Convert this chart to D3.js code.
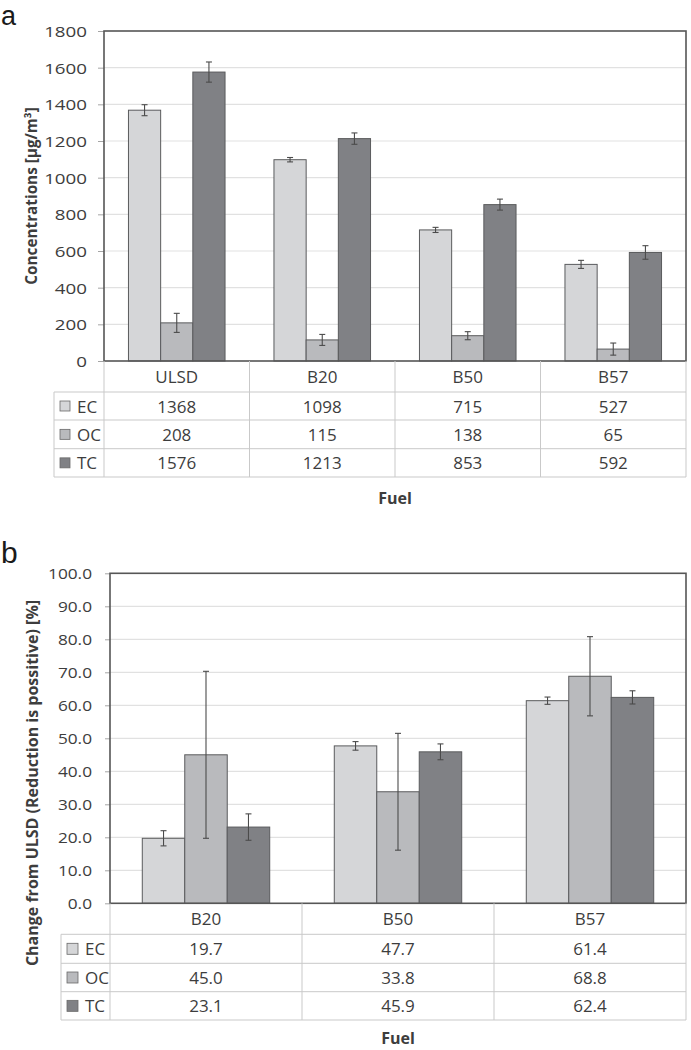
<!DOCTYPE html>
<html><head><meta charset="utf-8">
<script src="https://cdn.jsdelivr.net/npm/d3@7"></script>
<style>body{margin:0;background:#fff} svg{display:block;font-family:"Open Sans",sans-serif}</style>
</head><body>
<svg id="chart" width="691" height="1050"></svg>
<script>
// ---------- data ----------
const seriesNames = ["EC", "OC", "TC"];

// panel a: concentrations [µg/m³]
const fuelsA = ["ULSD", "B20", "B50", "B57"];
const ecA = [1368, 1098, 715, 527];
const ocA = [208, 115, 138, 65];
const tcA = [1576, 1213, 853, 592];
const ecErrA = [30, 12, 14, 22];
const ocErrA = [52, 30, 22, 33];
const tcErrA = [55, 31, 30, 37];
const ticksA = [0, 200, 400, 600, 800, 1000, 1200, 1400, 1600, 1800];

// panel b: change from ULSD [%]
const fuelsB = ["B20", "B50", "B57"];
const ecB = [19.7, 47.7, 61.4];
const ocB = [45.0, 33.8, 68.8];
const tcB = [23.1, 45.9, 62.4];
const ecErrB = [2.3, 1.3, 1.1];
const ocErrB = [25.3, 17.7, 12.0];
const tcErrB = [4.0, 2.4, 2.0];
const ticksB = [0, 10, 20, 30, 40, 50, 60, 70, 80, 90, 100];

// ---------- drawing ----------
const svg = d3.select("#chart");
const fillColor = d3.scaleOrdinal().domain(seriesNames).range(["#d5d6d8", "#b9babd", "#808185"]);
const TEXT = "#3d3d3d";
const FRAME = "#565656";
const TABLE = "#c9c9c9";

function panel(cfg) {
  const g = svg.append("g");
  const x = d3.scaleBand().domain(cfg.fuels).range([cfg.left, cfg.right]);
  const xs = d3.scaleBand().domain(seriesNames).range([0, x.bandwidth()]).paddingInner(0).paddingOuter(0.76);
  const y = d3.scaleLinear().domain([0, d3.max(cfg.ticks)]).range([cfg.bottom, cfg.top]);

  // gridlines
  g.append("g").selectAll("line").data(cfg.ticks.filter(t => t > 0 && t < d3.max(cfg.ticks))).join("line")
    .attr("x1", cfg.left).attr("x2", cfg.right)
    .attr("y1", d => y(d)).attr("y2", d => y(d))
    .attr("stroke", "#e1e1e1").attr("stroke-width", 1.2);

  // y axis via d3 axis (labels + ticks)
  const axis = d3.axisLeft(y).tickValues(cfg.ticks).tickFormat(cfg.tickFmt).tickSize(cfg.tickLen).tickPadding(cfg.tickPad);
  const ag = g.append("g").attr("transform", `translate(${cfg.left},0)`).call(axis);
  ag.select(".domain").remove();
  ag.selectAll(".tick line").attr("stroke", "#a5a5a5").attr("stroke-width", 1);
  ag.selectAll(".tick text").each(function() {
    const t = d3.select(this);
    const xx = +t.attr("x");
    t.attr("x", 0).attr("dy", null).attr("y", 0)
     .attr("transform", `translate(${xx},${cfg.tickDy}) scale(${cfg.tickSx},1)`);
  })
    .attr("font-family", "Open Sans").attr("font-size", cfg.tickFs).attr("fill", TEXT);

  // bars
  const rows = [];
  cfg.fuels.forEach((f, i) => cfg.series.forEach((s, j) => rows.push({f, s: seriesNames[j], v: s.v[i], e: s.e[i]})));
  g.append("g").selectAll("rect").data(rows).join("rect")
    .attr("x", d => x(d.f) + xs(d.s)).attr("width", xs.bandwidth())
    .attr("y", d => y(d.v)).attr("height", d => y(0) - y(d.v))
    .attr("fill", d => fillColor(d.s)).attr("stroke", "#5a5b5d").attr("stroke-width", 1);

  // error bars
  const eb = g.append("g").attr("stroke", "#4b4b4b").attr("stroke-width", 1.1);
  rows.forEach(d => {
    const cx = x(d.f) + xs(d.s) + xs.bandwidth() / 2;
    eb.append("line").attr("x1", cx).attr("x2", cx).attr("y1", y(d.v - d.e)).attr("y2", y(d.v + d.e));
    [d.v - d.e, d.v + d.e].forEach(v => eb.append("line").attr("x1", cx - 3).attr("x2", cx + 3).attr("y1", y(v)).attr("y2", y(v)));
  });

  // frame
  g.append("rect").attr("x", cfg.left).attr("y", cfg.top).attr("width", cfg.right - cfg.left).attr("height", cfg.bottom - cfg.top)
    .attr("fill", "none").attr("stroke", FRAME).attr("stroke-width", 1.6);

  // data table
  const tr = cfg.rows; // row boundaries
  const tg = g.append("g").attr("stroke", TABLE).attr("stroke-width", 1);
  tr.slice(1).forEach(yy => tg.append("line").attr("x1", cfg.legLeft).attr("x2", cfg.right).attr("y1", yy).attr("y2", yy));
  const vx = cfg.fuels.map(f => x(f)).concat([cfg.right]);
  vx.forEach(xx => tg.append("line").attr("x1", xx).attr("x2", xx).attr("y1", tr[0]).attr("y2", tr[tr.length - 1]));
  tg.append("line").attr("x1", cfg.legLeft).attr("x2", cfg.legLeft).attr("y1", tr[1]).attr("y2", tr[tr.length - 1]);

  const ctr = i => (tr[i] + tr[i + 1]) / 2;
  g.append("g").selectAll("text").data(cfg.fuels).join("text")
    .attr("x", d => x(d) + x.bandwidth() / 2).attr("y", ctr(0) + 6.5)
    .attr("text-anchor", "middle").attr("font-size", cfg.tableFs).attr("fill", TEXT).text(d => d);

  seriesNames.forEach((s, j) => {
    const cy = ctr(j + 1);
    g.append("rect").attr("x", cfg.legLeft + 6).attr("y", cy - cfg.sq / 2).attr("width", cfg.sq).attr("height", cfg.sq)
      .attr("fill", fillColor(s)).attr("stroke", "#6a6a6a").attr("stroke-width", 0.8);
    g.append("text").attr("x", cfg.legLeft + cfg.sq + 13).attr("y", cy + 6.5).attr("font-size", cfg.tableFs)
      .attr("fill", TEXT).text(s);
    g.append("g").selectAll("text").data(cfg.fuels).join("text")
      .attr("x", d => x(d) + x.bandwidth() / 2).attr("y", cy + 6.5)
      .attr("text-anchor", "middle").attr("font-size", cfg.tableFs).attr("fill", TEXT)
      .text((d, i) => cfg.valFmt(cfg.series[j].v[i]));
  });

  // titles
  g.append("text").attr("transform", `translate(${cfg.titleX},${cfg.titleY}) rotate(-90)`)
    .attr("text-anchor", "middle").attr("font-weight", "bold").attr("font-size", cfg.titleFs).attr("fill", TEXT)
    .text(cfg.title);
  g.append("text").attr("x", (cfg.left + cfg.right) / 2).attr("y", cfg.fuelY)
    .attr("text-anchor", "middle").attr("font-weight", "bold").attr("font-size", 16).attr("fill", TEXT).text("Fuel");
  g.append("text").attr("x", 1).attr("y", cfg.letterY).attr("font-family", "Liberation Sans, Arial, sans-serif")
    .attr("font-size", cfg.letterFs).attr("fill", "#1a1a1a").text(cfg.letter);
}

panel({
  letter: "a", letterY: 25, letterFs: 27,
  fuels: fuelsA,
  series: [{v: ecA, e: ecErrA}, {v: ocA, e: ocErrA}, {v: tcA, e: tcErrA}],
  ticks: ticksA, tickFmt: d3.format("d"), valFmt: d3.format("d"),
  left: 104, right: 686, top: 31, bottom: 361,
  rows: [361, 392, 420, 448.7, 477], legLeft: 54, sq: 10,
  tickLen: 6, tickPad: 11, tickDy: 5.5, tickSx: 1.25, tickFs: 15,
  tableFs: 17,
  title: "Concentrations [µg/m³]", titleX: 37, titleY: 196, titleFs: 15.3,
  fuelY: 504
});

panel({
  letter: "b", letterY: 563, letterFs: 30,
  fuels: fuelsB,
  series: [{v: ecB, e: ecErrB}, {v: ocB, e: ocErrB}, {v: tcB, e: tcErrB}],
  ticks: ticksB, tickFmt: d3.format(".1f"), valFmt: d3.format(".1f"),
  left: 110, right: 686, top: 573.3, bottom: 903.3,
  rows: [903.3, 934.3, 963.3, 991.7, 1020], legLeft: 61, sq: 11,
  tickLen: 5, tickPad: 13, tickDy: 5, tickSx: 1.15, tickFs: 15,
  tableFs: 17,
  title: "Change from ULSD (Reduction is possitive) [%]", titleX: 38, titleY: 783, titleFs: 16,
  fuelY: 1044
});
</script>
</body></html>
